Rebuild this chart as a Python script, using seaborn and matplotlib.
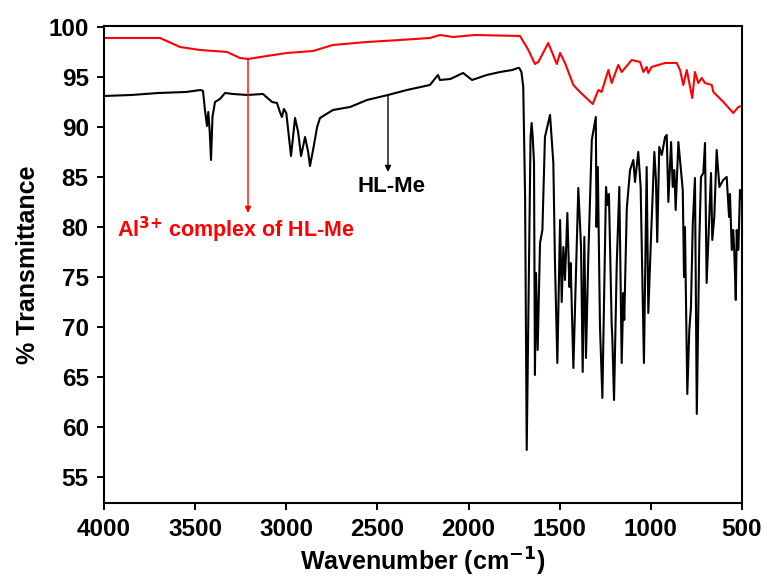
import matplotlib
matplotlib.use("Agg")
import matplotlib.pyplot as plt
import seaborn as sns
import pandas as pd

# HL-Me (black)
hl_wn = [4000, 3850, 3700, 3550, 3470, 3457, 3445, 3435, 3428, 3420, 3413, 3405, 3391, 3364,
         3336, 3292, 3215, 3128, 3078, 3051, 3035, 3024, 3013, 3000, 2974, 2952, 2935, 2919,
         2897, 2880, 2870, 2850, 2831, 2815, 2744, 2650, 2557, 2442, 2338, 2212, 2168, 2157,
         2100, 2030, 1981, 1900, 1827, 1760, 1729, 1722, 1710, 1700, 1690, 1681, 1660, 1654,
         1648, 1641, 1636, 1630, 1621, 1608, 1595, 1581, 1553, 1535, 1526, 1513, 1498, 1489,
         1480, 1471, 1458, 1447, 1440, 1425, 1398, 1383, 1374, 1365, 1356, 1343, 1324, 1302,
         1298, 1291, 1279, 1266, 1246, 1237, 1230, 1215, 1211, 1202, 1187, 1173, 1160, 1151,
         1146, 1132, 1114, 1096, 1087, 1069, 1056, 1038, 1023, 1014, 999, 981, 972, 965, 954,
         940, 922, 913, 904, 889, 880, 871, 864, 849, 835, 825, 818, 813, 800, 789, 780, 770,
         758, 748, 734, 725, 712, 703, 694, 685, 670, 663, 652, 639, 624, 603, 584, 571, 566,
         556, 548, 542, 534, 529, 520, 511, 500]
hl_t = [93.1, 93.2, 93.4, 93.5, 93.7, 93.6, 91.5, 90.1, 91.5, 89.5, 86.7, 91.0, 92.5, 92.8,
        93.4, 93.3, 93.2, 93.3, 92.5, 92.4, 91.5, 91.0, 91.8, 91.4, 87.1, 90.9, 89.5, 87.1,
        89.0, 87.5, 86.1, 88.0, 90.0, 90.9, 91.7, 92.0, 92.7, 93.2, 93.7, 94.2, 95.2, 94.7,
        94.8, 95.4, 94.7, 95.2, 95.5, 95.7, 95.9, 95.9, 95.5, 94.0, 83.0, 57.7, 89.0, 90.4,
        89.0, 86.4, 65.2, 75.4, 67.7, 78.4, 79.7, 89.0, 91.2, 86.4, 76.4, 66.4, 80.7, 72.5,
        78.0, 74.7, 81.4, 74.0, 76.4, 65.9, 83.9, 78.0, 65.5, 79.0, 66.9, 77.1, 88.7, 91.0,
        80.0, 86.0, 70.0, 62.9, 84.0, 82.2, 83.3, 70.3, 68.7, 62.7, 76.4, 84.0, 66.4, 73.4,
        70.7, 81.9, 85.7, 86.7, 84.5, 87.5, 84.0, 66.4, 86.0, 71.4, 79.0, 87.5, 84.7, 78.5, 88.0,
        87.2, 89.0, 89.2, 82.5, 88.5, 84.0, 85.7, 81.7, 88.5, 85.7, 83.7, 75.0, 80.0, 63.3, 69.7, 72.0, 80.3,
        84.9, 61.3, 78.7, 85.0, 85.4, 88.4, 74.4, 78.4, 85.4, 78.7, 81.0, 87.7, 84.0, 84.7, 85.0, 81.0, 83.3,
        77.7, 79.7, 77.3, 72.7, 79.7, 77.7, 83.7, 82.7]

# Al3+ complex of HL-Me (red)
al_wn = [4000, 3693, 3583, 3473, 3325, 3254, 3210, 3106, 2996, 2853, 2744, 2557, 2376, 2212,
         2157, 2085, 1965, 1718, 1672, 1636, 1617, 1563, 1516, 1498, 1471, 1425, 1389, 1319,
         1288, 1270, 1233, 1215, 1179, 1160, 1105, 1059, 1041, 1023, 1014, 996, 922, 858, 840,
         822, 803, 773, 758, 740, 721, 703, 666, 657, 602, 548, 520, 500]
al_t = [98.9, 98.9, 98.0, 97.7, 97.5, 96.9, 96.8, 97.1, 97.4, 97.6, 98.2, 98.5, 98.7, 98.9,
        99.2, 99.0, 99.2, 99.1, 97.7, 96.3, 96.5, 98.4, 96.3, 97.4, 96.4, 94.2, 93.5, 92.3,
        93.7, 93.5, 95.7, 94.4, 96.2, 95.5, 96.7, 96.5, 95.5, 96.0, 95.4, 96.0, 96.4, 96.4, 95.7,
        94.2, 95.7, 92.9, 95.5, 94.4, 94.9, 94.4, 94.2, 93.5, 92.5, 91.4, 92.0, 92.1]

x_ticks = [4000, 3500, 3000, 2500, 2000, 1500, 1000, 500]
y_ticks = [55, 60, 65, 70, 75, 80, 85, 90, 95, 100]

sns.set_theme(style="ticks")
plt.rcParams['font.family'] = ['Liberation Sans', 'DejaVu Sans']
plt.rcParams['font.weight'] = 'bold'
plt.rcParams['mathtext.default'] = 'bf'
plt.rcParams['text.color'] = 'black'
plt.rcParams['axes.labelcolor'] = 'black'
plt.rcParams['xtick.color'] = 'black'
plt.rcParams['ytick.color'] = 'black'

fig = plt.figure(figsize=(7.67, 5.80), dpi=100)
ax = fig.add_axes([0.1356, 0.1328, 0.8318, 0.8224])

df_hl = pd.DataFrame({"wn": hl_wn, "T": hl_t})
df_al = pd.DataFrame({"wn": al_wn, "T": al_t})
sns.lineplot(data=df_hl, x="wn", y="T", ax=ax, color="black", lw=1.5, sort=False)
sns.lineplot(data=df_al, x="wn", y="T", ax=ax, color="#ff0000", lw=1.5, sort=False)

ax.set_xlim(4000, 500)
ax.set_ylim(52.4, 100.1)
ax.set_xticks(x_ticks)
ax.set_yticks(y_ticks)
ax.tick_params(axis='both', direction='out', length=5, width=1.4, labelsize=17.5,
               colors='black')
ax.tick_params(axis='x', pad=6)
ax.tick_params(axis='y', pad=6)
for lab in ax.get_xticklabels() + ax.get_yticklabels():
    lab.set_fontweight('bold')
for s in ax.spines.values():
    s.set_linewidth(1.5)
    s.set_visible(True)
    s.set_color('black')

ax.set_xlabel("Wavenumber (cm$^{-1}$)", fontsize=18, fontweight='bold', labelpad=3)
ax.set_ylabel("% Transmittance", fontsize=18, fontweight='bold', labelpad=6)

ax.annotate("", xy=(3210, 81.4), xytext=(3210, 96.8),
            arrowprops=dict(arrowstyle='-|>', color='#ff0000', lw=1.0, mutation_scale=9,
                            shrinkA=0, shrinkB=0))
ax.text(3930, 79.7, "Al$^{3{+}}$ complex of HL-Me", color='#ff0000', fontsize=15.5,
        fontweight='bold', ha='left', va='center')

ax.annotate("", xy=(2442, 85.5), xytext=(2442, 93.2),
            arrowprops=dict(arrowstyle='-|>', color='black', lw=1.0, mutation_scale=9,
                            shrinkA=0, shrinkB=0))
ax.text(2612, 84.0, "HL-Me", color='black', fontsize=16, fontweight='bold',
        ha='left', va='center')

fig.savefig("out.png", dpi=100)
